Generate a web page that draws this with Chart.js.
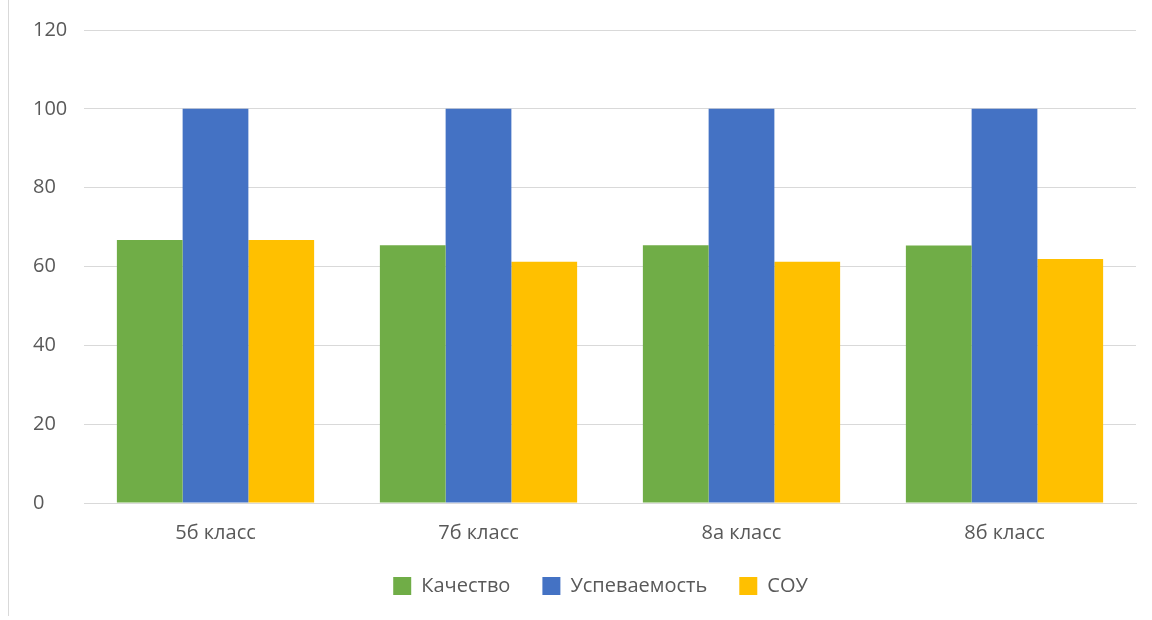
<!DOCTYPE html>
<html>
<head>
<meta charset="utf-8">
<script src="https://cdn.jsdelivr.net/npm/chart.js@4.4.1/dist/chart.umd.min.js"></script>
<style>
  html, body { margin: 0; padding: 0; background: #ffffff; }
  #wrap { width: 1152px; height: 620px; position: relative; }
</style>
</head>
<body>
<div id="wrap"><canvas id="c" width="1152" height="620"></canvas></div>
<script>
const categories = ["5б класс", "7б класс", "8а класс", "8б класс"];
const kachestvo = [66.7, 65.4, 65.4, 65.3];
const uspevaemost = [100, 100, 100, 100];
const sou = [66.7, 61.2, 61.2, 61.9];
const seriesNames = ["Качество", "Успеваемость", "СОУ"];
const yTicks = [0, 20, 40, 60, 80, 100, 120];

const FONT = "'Open Sans', 'Noto Sans', sans-serif";
const TEXT = "#595959";
const GRID = "#d9d9d9";

const borderPlugin = {
  id: 'leftBorder',
  beforeDraw(chart) {
    const ctx = chart.ctx;
    ctx.save();
    ctx.fillStyle = '#ffffff';
    ctx.fillRect(0, 0, chart.width, chart.height);
    ctx.strokeStyle = GRID;
    ctx.lineWidth = 1;
    ctx.beginPath();
    ctx.moveTo(8.5, 0);
    ctx.lineTo(8.5, chart.height - 4);
    ctx.stroke();
    ctx.restore();
  }
};

const legendShift = {
  id: 'legendShift',
  afterLayout(chart) {
    if (chart.legend) {
      chart.legend.left += 16;
      chart.legend.right += 16;
    }
  }
};

new Chart(document.getElementById('c'), {
  type: 'bar',
  data: {
    labels: categories,
    datasets: [
      { label: seriesNames[0], data: kachestvo, backgroundColor: '#70AD47' },
      { label: seriesNames[1], data: uspevaemost, backgroundColor: '#4472C4' },
      { label: seriesNames[2], data: sou, backgroundColor: '#FFC000' }
    ]
  },
  options: {
    responsive: false,
    animation: false,
    devicePixelRatio: 1,
    layout: { padding: { left: 33, right: 16, top: 30, bottom: 14 } },
    datasets: { bar: { categoryPercentage: 0.75, barPercentage: 1.0, borderWidth: 0 } },
    scales: {
      x: {
        afterFit(scale) { scale.height = 41; },
        grid: { display: false, drawTicks: false },
        border: { display: true, color: GRID, width: 1 },
        ticks: { color: TEXT, font: { family: FONT, size: 20 }, padding: 18 }
      },
      y: {
        min: 0, max: 120,
        afterBuildTicks(scale) { scale.ticks = yTicks.map(v => ({ value: v })); },
        afterFit(scale) { scale.width = 51; },
        grid: { color: GRID, lineWidth: 1, drawTicks: false },
        border: { display: false },
        ticks: { color: TEXT, font: { family: FONT, size: 20 }, crossAlign: 'far', padding: 0 }
      }
    },
    plugins: {
      legend: {
        position: 'bottom',
        labels: {
          color: TEXT,
          font: { family: FONT, size: 20 },
          boxWidth: 18, boxHeight: 18,
          padding: 32
        }
      },
      tooltip: { enabled: false },
      title: { display: false }
    }
  },
  plugins: [borderPlugin, legendShift]
});
</script>
</body>
</html>
